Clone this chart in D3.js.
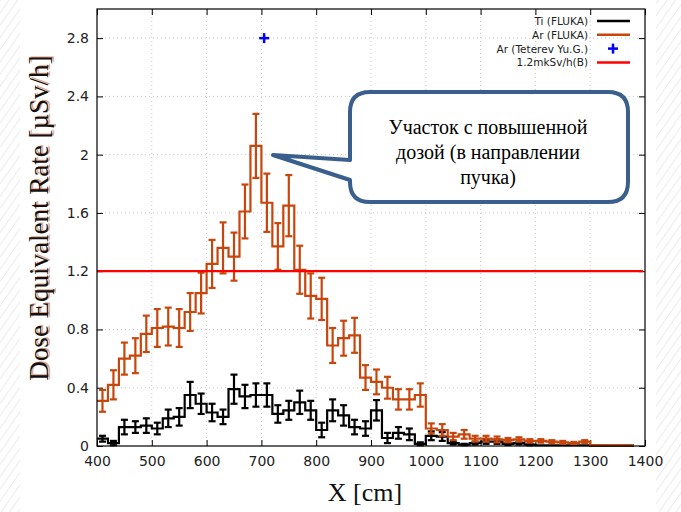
<!DOCTYPE html>
<html>
<head>
<meta charset="utf-8">
<script src="https://cdn.jsdelivr.net/npm/d3@7"></script>
<style>
  body { margin: 0; background: #fff; }
  svg { display: block; }
</style>
</head>
<body>
<div id="chart"></div>
<script>
// bin centres (20 cm bins, 400..1380 cm)
var binX = [410,430,450,470,490,510,530,550,570,590,
            610,630,650,670,690,710,730,750,770,790,
            810,830,850,870,890,910,930,950,970,990,
            1010,1030,1050,1070,1090,1110,1130,1150,1170,1190,
            1210,1230,1250,1270,1290,1310,1330,1350,1370];

// Ar (FLUKA)
var arValue = [0.31,0.42,0.60,0.62,0.77,0.81,0.82,0.81,0.92,1.05,
               1.25,1.36,1.30,1.61,2.06,1.67,1.37,1.65,1.21,1.03,
               1.01,0.69,0.74,0.76,0.47,0.44,0.40,0.32,0.32,0.35,
               0.12,0.11,0.065,0.08,0.05,0.05,0.045,0.04,0.045,0.035,
               0.035,0.03,0.025,0.02,0.03,0.006,0.005,0.005,0.005];
var arError = [0.075,0.10,0.11,0.12,0.125,0.13,0.13,0.13,0.13,0.14,
               0.165,0.175,0.165,0.185,0.22,0.20,0.16,0.21,0.165,0.155,
               0.145,0.12,0.12,0.12,0.085,0.085,0.075,0.07,0.07,0.08,
               0.035,0.04,0.025,0.03,0.02,0.02,0.02,0.015,0.015,0.012,
               0.012,0.01,0.01,0.008,0.01,0,0,0,0];

// Ti (FLUKA)
var tiValue = [0.05,0.02,0.13,0.13,0.14,0.12,0.19,0.20,0.35,0.29,
               0.23,0.20,0.39,0.34,0.35,0.35,0.22,0.245,0.30,0.245,
               0.11,0.245,0.21,0.13,0.12,0.245,0.055,0.09,0.08,0.015,
               0.07,0.065,0.02,0.01,0.02,0.03,0.03,0.015,0.02,0.01,
               0.005,0.005,0.005,0.005,0.005,0.002,0.002,0.002,0.002];
var tiError = [0.02,0.015,0.05,0.04,0.05,0.04,0.06,0.06,0.09,0.07,
               0.06,0.05,0.1,0.08,0.08,0.08,0.06,0.065,0.08,0.065,
               0.05,0.075,0.07,0.05,0.05,0.07,0.035,0.04,0.04,0.01,
               0.03,0.03,0.01,0.005,0.01,0.015,0.015,0.008,0.01,0.005,
               0,0,0,0,0,0,0,0,0];

// Ar (Teterev Yu.G.) single point, limit line
var teterevPoint = [705, 2.8];
var limitLevel = 1.2;

var xTicks = [400,500,600,700,800,900,1000,1100,1200,1300,1400];
var yTicks = [0,0.4,0.8,1.2,1.6,2,2.4,2.8];
var legendLabels = ["Ti (FLUKA)", "Ar (FLUKA)", "Ar (Teterev Yu.G.)", "1.2mkSv/h(B)"];
var calloutLines = ["Участок с повышенной", "дозой (в направлении", "пучка)"];

var binWidth = 20;
var colAr = "#c8460c", colTi = "#000000";

var W = 681, H = 512;
var margin = {top: 9, right: 36, bottom: 66, left: 97};

var svg = d3.select("#chart").append("svg")
    .attr("width", W).attr("height", H);

// slide hatching at the edges
var defs = svg.append("defs");
var pat = defs.append("pattern")
    .attr("id", "hatch")
    .attr("patternUnits", "userSpaceOnUse")
    .attr("width", 7).attr("height", 7)
    .attr("patternTransform", "rotate(35)");
pat.append("line").attr("x1", 0).attr("y1", 0).attr("x2", 0).attr("y2", 7)
    .attr("stroke", "#e4e4e4").attr("stroke-width", 1.5);
svg.append("rect").attr("x", 0).attr("y", 0).attr("width", 20).attr("height", H).attr("fill", "url(#hatch)");
svg.append("rect").attr("x", 656).attr("y", 0).attr("width", W - 656).attr("height", H).attr("fill", "url(#hatch)");

var x = d3.scaleLinear().domain([400, 1400]).range([margin.left, W - margin.right]);
var y = d3.scaleLinear().domain([0, 3]).range([H - margin.bottom, margin.top]);

var plot = svg.append("g");

// dotted grid
plot.append("g").selectAll("line").data(xTicks.slice(1, -1)).enter().append("line")
    .attr("x1", d => x(d)).attr("x2", d => x(d))
    .attr("y1", y(0)).attr("y2", y(3))
    .attr("stroke", "#c8c8c8").attr("stroke-width", 1).attr("stroke-dasharray", "1,3");
plot.append("g").selectAll("line").data(yTicks.slice(1)).enter().append("line")
    .attr("x1", x(400)).attr("x2", x(1400))
    .attr("y1", d => y(d)).attr("y2", d => y(d))
    .attr("stroke", "#c8c8c8").attr("stroke-width", 1).attr("stroke-dasharray", "1,3");

// axes, gnuplot style ticks pointing inwards
var fmt = d => String(+d.toFixed(1));
var axB = plot.append("g").attr("transform", "translate(0," + y(0) + ")")
    .call(d3.axisBottom(x).tickValues(xTicks).tickSize(-6).tickPadding(10).tickFormat(fmt));
var axL = plot.append("g").attr("transform", "translate(" + x(400) + ",0)")
    .call(d3.axisLeft(y).tickValues(yTicks).tickSize(-6).tickPadding(8).tickFormat(fmt));
var axT = plot.append("g").attr("transform", "translate(0," + y(3) + ")")
    .call(d3.axisTop(x).tickValues(xTicks).tickSize(-6).tickFormat(""));
var axR = plot.append("g").attr("transform", "translate(" + x(1400) + ",0)")
    .call(d3.axisRight(y).tickValues(yTicks).tickSize(-6).tickFormat(""));
[axB, axL, axT, axR].forEach(function(a) {
  a.select(".domain").remove();
  a.selectAll(".tick line").attr("stroke", "#000").attr("stroke-width", 1);
  a.selectAll("text").attr("font-family", "DejaVu Sans").attr("font-size", 14).attr("fill", "#222");
});

// histogram helpers
function steps(values) {
  var pts = [];
  values.forEach(function(v, i) {
    pts.push([binX[i] - binWidth / 2, v]);
    pts.push([binX[i] + binWidth / 2, v]);
  });
  return pts;
}
var line = d3.line().x(d => x(d[0])).y(d => y(d[1]));

function drawHist(values, errors, col) {
  var g = plot.append("g");
  g.append("path").datum(steps(values)).attr("d", line)
    .attr("fill", "none").attr("stroke", col).attr("stroke-width", 2.2)
    .attr("stroke-linejoin", "miter");
  var eb = g.selectAll(".eb").data(values.map((v, i) => ({x: binX[i], v: v, e: errors[i]})).filter(d => d.e > 0))
    .enter().append("g");
  eb.append("line").attr("x1", d => x(d.x)).attr("x2", d => x(d.x))
    .attr("y1", d => y(d.v - d.e)).attr("y2", d => y(d.v + d.e))
    .attr("stroke", col).attr("stroke-width", 2.2);
  [-1, 1].forEach(function(s) {
    eb.append("line").attr("x1", d => x(d.x) - 3.5).attr("x2", d => x(d.x) + 3.5)
      .attr("y1", d => y(d.v + s * d.e)).attr("y2", d => y(d.v + s * d.e))
      .attr("stroke", col).attr("stroke-width", 2.2);
  });
}

drawHist(tiValue, tiError, colTi);
drawHist(arValue, arError, colAr);

// Teterev point
function plus(g, cx, cy, r) {
  g.append("line").attr("x1", cx - r).attr("x2", cx + r).attr("y1", cy).attr("y2", cy)
    .attr("stroke", "#0000ff").attr("stroke-width", 2.5);
  g.append("line").attr("x1", cx).attr("x2", cx).attr("y1", cy - r).attr("y2", cy + r)
    .attr("stroke", "#0000ff").attr("stroke-width", 2.5);
}
plus(plot, x(teterevPoint[0]), y(teterevPoint[1]), 5);

// 1.2 limit line
plot.append("line").attr("x1", x(400)).attr("x2", x(1400) - 2)
  .attr("y1", y(limitLevel)).attr("y2", y(limitLevel))
  .attr("stroke", "#ff0000").attr("stroke-width", 2.2);

// frame
plot.append("rect").attr("x", x(400)).attr("y", y(3))
  .attr("width", x(1400) - x(400)).attr("height", y(0) - y(3))
  .attr("fill", "none").attr("stroke", "#000").attr("stroke-width", 1.2);

// legend
var lg = plot.append("g");
legendLabels.forEach(function(t, i) {
  var ly = 21 + i * 13.8;
  lg.append("text").attr("x", 588).attr("y", ly + 4).attr("text-anchor", "end")
    .attr("font-family", "DejaVu Sans").attr("font-size", 10.5).attr("fill", "#222").text(t);
  if (i === 2) {
    plus(lg, 613, ly, 5);
  } else {
    lg.append("line").attr("x1", 597).attr("x2", 630).attr("y1", ly).attr("y2", ly)
      .attr("stroke", [colTi, colAr, null, "#ff0000"][i]).attr("stroke-width", 2.5);
  }
});

// axis titles
var yl = svg.append("g").attr("transform", "translate(48," + 218 + ") rotate(-90)");
yl.append("text").attr("x", 1).attr("y", 1.5).attr("text-anchor", "middle")
  .attr("font-family", "Liberation Serif").attr("font-size", 27).attr("fill", colAr).attr("opacity", 0.5)
  .text("Dose Equivalent Rate [µSv/h]");
yl.append("text").attr("x", 0).attr("y", 0).attr("text-anchor", "middle")
  .attr("font-family", "Liberation Serif").attr("font-size", 27).attr("fill", "#111")
  .text("Dose Equivalent Rate [µSv/h]");

svg.append("text").attr("x", 365).attr("y", 501).attr("text-anchor", "middle")
  .attr("font-family", "Liberation Serif").attr("font-size", 26).attr("fill", "#111")
  .text("X [cm]");

// callout bubble
var bx0 = 350, bx1 = 628, by0 = 92, by1 = 202, r = 20;
var bubble = "M" + (bx0 + r) + "," + by0 +
  " H" + (bx1 - r) + " Q" + bx1 + "," + by0 + " " + bx1 + "," + (by0 + r) +
  " V" + (by1 - r) + " Q" + bx1 + "," + by1 + " " + (bx1 - r) + "," + by1 +
  " H" + (bx0 + r) + " Q" + bx0 + "," + by1 + " " + bx0 + "," + (by1 - r) +
  " V180 L273,155 L" + bx0 + ",160 V" + (by0 + r) +
  " Q" + bx0 + "," + by0 + " " + (bx0 + r) + "," + by0 + " Z";
svg.append("path").attr("d", bubble)
  .attr("fill", "#fff").attr("stroke", "#3b5f8c").attr("stroke-width", 4)
  .attr("stroke-linejoin", "round");
calloutLines.forEach(function(t, i) {
  svg.append("text").attr("x", 488).attr("y", 134 + i * 25).attr("text-anchor", "middle")
    .attr("font-family", "Liberation Serif").attr("font-size", 20).attr("fill", "#000").text(t);
});
</script>
</body>
</html>
